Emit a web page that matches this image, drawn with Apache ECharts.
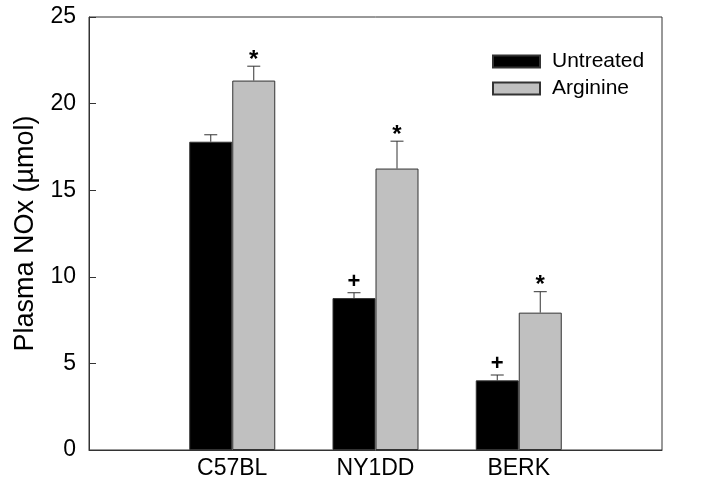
<!DOCTYPE html>
<html>
<head>
<meta charset="utf-8">
<script src="https://cdn.jsdelivr.net/npm/echarts@6/dist/echarts.min.js"></script>
<style>html,body{margin:0;padding:0;background:#fff;}#c{width:715px;height:486px;}</style>
</head>
<body>
<div id="c"></div>
<script>
const categories = ['C57BL', 'NY1DD', 'BERK'];
const untreated = [17.8, 8.77, 4.02];
const untreatedErr = [0.4, 0.31, 0.31];
const arginine = [21.33, 16.25, 7.93];
const arginineErr = [0.83, 1.58, 1.21];
const untreatedMark = ['', '+', '+'];
const arginineMark = ['*', '*', '*'];
const yTicks = [0, 5, 10, 15, 20, 25];

const font = 'Liberation Sans, Arial, sans-serif';
const axisData = [''].concat(categories, ['']);
const pad = arr => [null].concat(arr, [null]);

const errData = [];
categories.forEach((c, i) => {
  errData.push([i + 1, untreated[i], untreatedErr[i], 0, untreatedMark[i]]);
  errData.push([i + 1, arginine[i], arginineErr[i], 1, arginineMark[i]]);
});

const BAR_W = 43;

const chart = echarts.init(document.getElementById('c'), null, {renderer: 'canvas'});
chart.setOption({
  animation: false,
  backgroundColor: '#fff',
  grid: {left: 89, right: 53, top: 17, bottom: 36, show: true, borderColor: '#333', borderWidth: 1},
  legend: {
    orient: 'vertical', left: 487, top: 46, itemWidth: 47, itemHeight: 12, itemGap: 6,
    icon: 'rect',
    textStyle: {fontFamily: font, fontSize: 21, color: '#000', lineHeight: 20, padding: [0, 0, 0, 7]},
    data: ['Untreated', 'Arginine']
  },
  xAxis: {
    type: 'category', data: axisData, boundaryGap: false,
    axisLine: {lineStyle: {color: '#333', width: 1}},
    axisTick: {show: false},
    axisLabel: {fontFamily: font, fontSize: 23, color: '#000', margin: 7, interval: 0},
    splitLine: {show: false}
  },
  yAxis: {
    type: 'value', min: yTicks[0], max: yTicks[yTicks.length - 1], interval: yTicks[1] - yTicks[0],
    name: 'Plasma NOx (\u00b5mol)', nameLocation: 'middle', nameGap: 50,
    nameTextStyle: {fontFamily: font, fontSize: 27, color: '#000'},
    axisLine: {show: true, lineStyle: {color: '#333', width: 1}},
    axisTick: {show: true, inside: true, length: 7, lineStyle: {color: '#333'}},
    axisLabel: {fontFamily: font, fontSize: 23, color: '#000', margin: 13},
    splitLine: {show: false}
  },
  series: [
    {
      name: 'Untreated', type: 'bar', data: pad(untreated), barWidth: BAR_W, barGap: '0%',
      itemStyle: {color: '#000', borderColor: '#333', borderWidth: 1}
    },
    {
      name: 'Arginine', type: 'bar', data: pad(arginine), barWidth: BAR_W, barGap: '0%',
      itemStyle: {color: '#c0c0c0', borderColor: '#333', borderWidth: 1}
    },
    {
      type: 'custom', data: errData, z: 5,
      renderItem: function (params, api) {
        const idx = api.value(0), v = api.value(1), e = api.value(2), s = api.value(3);
        const mark = errData[params.dataIndex][4];
        const off = s === 0 ? -BAR_W / 2 : BAR_W / 2;
        const base = api.coord([idx, v]);
        const top = api.coord([idx, v + e]);
        const x = base[0] + off;
        const children = [
          {type: 'line', shape: {x1: x, y1: base[1], x2: x, y2: top[1]}, style: {stroke: '#333', lineWidth: 1}},
          {type: 'line', shape: {x1: x - 6.5, y1: top[1], x2: x + 6.5, y2: top[1]}, style: {stroke: '#333', lineWidth: 1}}
        ];
        if (mark) {
          const isStar = mark === '*';
          children.push({
            type: 'text',
            style: {
              x: x, y: top[1] - (isStar ? 6 : 11), text: mark,
              font: 'bold ' + (isStar ? 24 : 22) + 'px ' + font,
              fill: '#000', align: 'center', verticalAlign: 'middle'
            }
          });
        }
        return {type: 'group', children: children};
      }
    }
  ]
});
</script>
</body>
</html>
